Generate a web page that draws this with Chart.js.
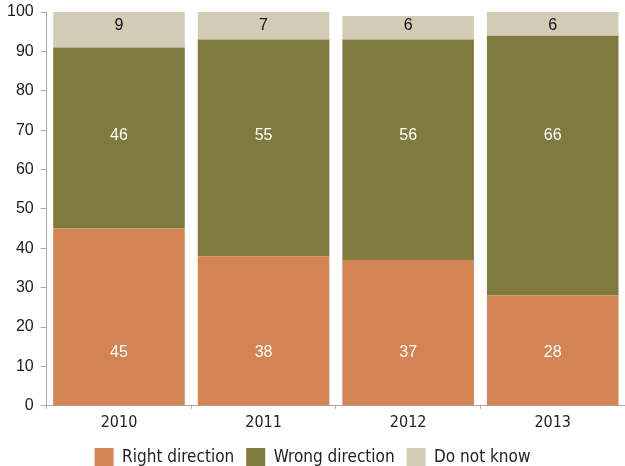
<!DOCTYPE html>
<html>
<head>
<meta charset="utf-8">
<script src="https://cdn.jsdelivr.net/npm/chart.js@4"></script>
<style>
  html, body { margin: 0; padding: 0; background: #fff; }
  .container { width: 625px; height: 466px; position: relative; }
</style>
</head>
<body>
<div class="container"><canvas id="chart"></canvas></div>
<script>
const years = ['2010', '2011', '2012', '2013'];
const rightDirection = [45, 38, 37, 28];
const wrongDirection = [46, 55, 56, 66];
const doNotKnow = [9, 7, 6, 6];
const yTicks = [0, 10, 20, 30, 40, 50, 60, 70, 80, 90, 100];

const narrow = "'Liberation Sans Narrow', 'DejaVu Sans Condensed', 'Roboto', sans-serif";
const regular = "'Liberation Sans', Arial, sans-serif";

// labels sit at the same height in every bar, per series
const labelLevels = [13.5, 68.5, 96.5];
const labelColors = ['#ffffff', '#ffffff', '#111111'];

const barLabels = {
  id: 'barLabels',
  afterDatasetsDraw(chart) {
    const { ctx } = chart;
    const y = chart.scales.y;
    ctx.save();
    ctx.font = '16px ' + regular;
    ctx.textAlign = 'center';
    ctx.textBaseline = 'middle';
    chart.data.datasets.forEach((ds, i) => {
      chart.getDatasetMeta(i).data.forEach((bar, j) => {
        ctx.fillStyle = labelColors[i];
        ctx.fillText(String(ds.data[j]), bar.x, y.getPixelForValue(labelLevels[i]));
      });
    });
    ctx.restore();
  }
};

const ctx = document.getElementById('chart');
new Chart(ctx, {
  type: 'bar',
  data: {
    labels: years,
    datasets: [
      { label: 'Right direction', data: rightDirection, backgroundColor: '#d38452' },
      { label: 'Wrong direction', data: wrongDirection, backgroundColor: '#7f7a3e' },
      { label: 'Do not know', data: doNotKnow, backgroundColor: '#d2cbb6' }
    ]
  },
  options: {
    responsive: true,
    maintainAspectRatio: false,
    animation: false,
    datasets: { bar: { categoryPercentage: 1, barPercentage: 0.91 } },
    layout: { padding: { top: 12, right: 0, left: 0, bottom: -11 } },
    scales: {
      x: {
        stacked: true,
        grid: { display: true, drawOnChartArea: false, offset: true, color: '#aaaaaa', tickLength: 3 },
        border: { color: '#aaaaaa', width: 1 },
        ticks: { color: '#222', font: { family: narrow, size: 16 }, padding: 4 }
      },
      y: {
        stacked: true,
        min: 0,
        max: 100,
        afterBuildTicks(axis) { axis.ticks = yTicks.map(v => ({ value: v })); },
        afterFit(axis) { axis.paddingTop = 0; },
        grid: { display: true, drawOnChartArea: false, color: '#aaaaaa', tickLength: 6 },
        border: { color: '#aaaaaa', width: 1 },
        ticks: { color: '#1a1a1a', font: { family: regular, size: 16 }, padding: 7 }
      }
    },
    plugins: {
      legend: {
        position: 'bottom',
        labels: {
          boxWidth: 19,
          boxHeight: 19,
          padding: 12,
          color: '#222',
          font: { family: narrow, size: 17 }
        }
      },
      tooltip: { enabled: false }
    }
  },
  plugins: [barLabels]
});
</script>
</body>
</html>
